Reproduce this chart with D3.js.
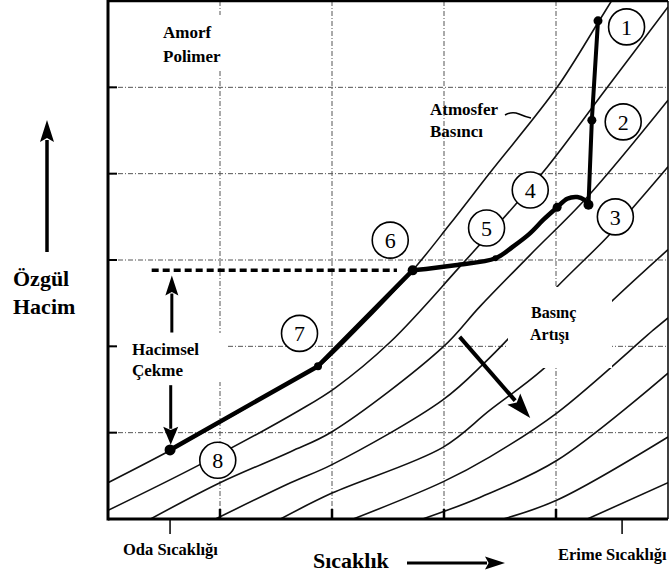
<!DOCTYPE html>
<html><head><meta charset="utf-8">
<script src="https://cdn.jsdelivr.net/npm/d3@7"></script>
<style>body{margin:0;background:#fff}svg{display:block}</style>
</head><body><svg id="c" width="669" height="581"></svg>
<script>
// ---------- data (grid units: temperature columns 0-5, specific volume rows 0-6) ----------
const xGrid = [1, 2, 3, 4];
const yGrid = [1, 2, 3, 4, 5];

// isobars, from atmospheric pressure (top-left) to highest pressure (bottom-right)
const isobarAtm = [[0,0.42],[0.55,0.79],[1.09,1.18],[1.63,1.59],[1.88,1.77],[2.22,2.19],[2.72,2.88],[3.05,3.41],[3.41,4.01],[4.01,5.00],[4.38,5.76],[4.50,6.01]];
const isobar2 = [[0,0.10],[0.82,0.63],[1.71,1.26],[2.03,1.52],[2.52,2.05],[3.14,2.92],[3.88,4.01],[4.44,4.97],[5.0,5.93]];
const isobar3 = [[0.38,0],[1.00,0.42],[1.63,0.78],[2.00,1.01],[2.99,1.99],[3.32,2.46],[3.77,3.06],[4.28,3.73],[5.0,4.85]];
const isobar4 = [[0.96,0],[1.63,0.42],[2.00,0.63],[2.99,1.38],[3.37,1.82],[3.62,2.15],[4.01,2.69],[4.46,3.27],[4.69,3.61],[5.0,4.08]];
const isobar5 = [[1.54,0],[2.00,0.30],[2.99,0.83],[3.41,1.26],[3.88,1.73],[4.48,2.50],[5.0,3.12]];
const isobar6 = [[2.19,0],[2.99,0.43],[3.41,0.72],[4.01,1.23],[4.87,2.19],[5.0,2.33]];
const isobar7 = [[2.81,0],[3.32,0.25],[4.01,0.68],[5.0,1.69]];
const isobar8 = [[3.53,0],[4.01,0.22],[5.0,0.95]];
const isobar9 = [[4.28,0],[5.0,0.42]];
const isobars = [isobarAtm, isobar2, isobar3, isobar4, isobar5, isobar6, isobar7, isobar8, isobar9];

// molding cycle path
const injection = [[4.375,5.77],[4.32,4.62],[4.29,3.64]];
const holding = [[4.29,3.64],[4.25,3.70],[4.19,3.73],[4.10,3.71],[4.01,3.61],[3.89,3.47],[3.76,3.30],[3.61,3.15],[3.46,3.02],[3.10,2.94],[2.72,2.88]];
const cooling = [[2.72,2.88],[1.875,1.77],[0.554,0.80]];

const stagePoints = [[4.375,5.77],[4.32,4.62],[4.29,3.64],[4.01,3.61],[3.46,3.02],[2.72,2.88],[1.875,1.77],[0.554,0.80]];
const stageRadius = [4.5,4.5,5,4.5,3,5,4,5.5];
const stageNumbers = ["1","2","3","4","5","6","7","8"];
const stageLabelPos = [[4.63,5.70],[4.60,4.60],[4.53,3.50],[3.77,3.81],[3.38,3.37],[2.52,3.23],[1.71,2.15],[0.98,0.68]];

const shrinkLevel = 2.88, shrinkFrom = 0.39, shrinkTo = 2.58;
const roomTemp = 0.554, meltTemp = 4.59;

// ---------- drawing ----------
const svg = d3.select("#c");
const x = d3.scaleLinear().domain([0,5]).range([108,668]);
const y = d3.scaleLinear().domain([0,6]).range([519,1]);
const serif = "'Liberation Serif','Times New Roman',serif";

svg.append("rect").attr("width",669).attr("height",581).attr("fill","#fff");
svg.append("defs").append("clipPath").attr("id","pc").append("rect")
  .attr("x",x(0)).attr("y",y(6)).attr("width",x(5)-x(0)).attr("height",y(0)-y(6));

// grid
const g = svg.append("g").attr("stroke","#555").attr("stroke-width",1).attr("stroke-dasharray","5,2,1,2");
g.selectAll(".vx").data(xGrid).join("line").attr("x1",d=>x(d)).attr("x2",d=>x(d)).attr("y1",y(6)).attr("y2",y(0));
g.selectAll(".hy").data(yGrid).join("line").attr("y1",d=>y(d)).attr("y2",d=>y(d)).attr("x1",x(0)).attr("x2",x(5));

// isobars
const line = d3.line().x(d=>x(d[0])).y(d=>y(d[1])).curve(d3.curveCatmullRom.alpha(0.5));
svg.append("g").attr("clip-path","url(#pc)").selectAll("path").data(isobars).join("path")
  .attr("d",line).attr("fill","none").attr("stroke","#111").attr("stroke-width",1.6);

// white label backgrounds
const boxes = [[150,15,85,55],[118,333,108,49],[508,287,104,81]];
svg.append("g").selectAll("rect").data(boxes).join("rect")
  .attr("x",d=>d[0]).attr("y",d=>d[1]).attr("width",d=>d[2]).attr("height",d=>d[3]).attr("fill","#fff");

// frame
svg.append("line").attr("x1",x(0)).attr("x2",x(0)).attr("y1",0).attr("y2",y(0)+1.5).attr("stroke","#000").attr("stroke-width",3);
svg.append("line").attr("x1",x(0)).attr("x2",x(5)).attr("y1",y(0)).attr("y2",y(0)).attr("stroke","#000").attr("stroke-width",3);
svg.append("line").attr("x1",x(0)).attr("x2",x(5)).attr("y1",y(6)).attr("y2",y(6)).attr("stroke","#000").attr("stroke-width",2.5);
svg.append("line").attr("x1",x(5)).attr("x2",x(5)).attr("y1",y(6)).attr("y2",y(0)).attr("stroke","#000").attr("stroke-width",1.5);
// ticks
svg.append("g").selectAll("line").data(xGrid).join("line").attr("x1",d=>x(d)).attr("x2",d=>x(d))
  .attr("y1",y(0)).attr("y2",y(0)-10).attr("stroke","#000").attr("stroke-width",2.5);
svg.append("g").selectAll("line").data(yGrid).join("line").attr("y1",d=>y(d)).attr("y2",d=>y(d))
  .attr("x1",x(0)).attr("x2",x(0)+9).attr("stroke","#000").attr("stroke-width",2);
svg.append("g").selectAll("line").data([roomTemp, meltTemp]).join("line").attr("x1",d=>x(d)).attr("x2",d=>x(d))
  .attr("y1",y(0)).attr("y2",y(0)+15).attr("stroke","#000").attr("stroke-width",1.5);

// shrinkage dashed level
svg.append("line").attr("x1",x(shrinkFrom)).attr("x2",x(shrinkTo)).attr("y1",y(shrinkLevel)).attr("y2",y(shrinkLevel))
  .attr("stroke","#000").attr("stroke-width",3.5).attr("stroke-dasharray","7,4");

// cycle path
const lin = d3.line().x(d=>x(d[0])).y(d=>y(d[1]));
const smooth = d3.line().x(d=>x(d[0])).y(d=>y(d[1])).curve(d3.curveCatmullRom.alpha(0.5));
svg.append("path").attr("d",lin(injection)).attr("fill","none").attr("stroke","#000").attr("stroke-width",4);
svg.append("path").attr("d",smooth(holding)).attr("fill","none").attr("stroke","#000").attr("stroke-width",4.5).attr("stroke-linejoin","round");
svg.append("path").attr("d",lin(cooling)).attr("fill","none").attr("stroke","#000").attr("stroke-width",4.5).attr("stroke-linejoin","round");
svg.append("g").selectAll("circle").data(stagePoints).join("circle")
  .attr("cx",d=>x(d[0])).attr("cy",d=>y(d[1])).attr("r",(d,i)=>stageRadius[i]).attr("fill","#000");

// arrows
function arrow(x1,y1,x2,y2,hl,hw,sw){
  const a = Math.atan2(y2-y1,x2-x1), c=Math.cos(a), s=Math.sin(a);
  const bx = x2-hl*c, by = y2-hl*s;
  svg.append("line").attr("x1",x1).attr("y1",y1).attr("x2",bx+c*2).attr("y2",by+s*2).attr("stroke","#000").attr("stroke-width",sw);
  svg.append("path").attr("d",`M${x2},${y2}L${bx-s*hw/2},${by+c*hw/2}L${bx+c*hl*0.18},${by+s*hl*0.18}L${bx+s*hw/2},${by-c*hw/2}Z`).attr("fill","#000");
}
arrow(x(0.57),y(2.16),x(0.57),y(2.82),20,13,3);
arrow(x(0.56),y(1.55),x(0.56),y(0.86),18,15,3);
arrow(x(3.14),y(2.11),x(3.77),y(1.17),25,17,4);
arrow(47,252,47,120,22,14,3.5);
arrow(407,563,505,563,20,13,3);

// stage number circles
const lab = svg.append("g").selectAll("g").data(stageLabelPos).join("g")
  .attr("transform",d=>`translate(${x(d[0])},${y(d[1])})`);
lab.append("circle").attr("r",18).attr("fill","#fff").attr("stroke","#000").attr("stroke-width",1.6);
lab.append("text").text((d,i)=>stageNumbers[i]).attr("text-anchor","middle").attr("dy","0.35em")
  .attr("font-family",serif).attr("font-size",22).attr("fill","#000");

// atmosphere leader
svg.append("path").attr("d","M505,115 Q512,111 519,114 T531,118").attr("fill","none").attr("stroke","#000").attr("stroke-width",1.5);

// texts
const texts = [
  ["Amorf",163,38,17],["Polimer",163,62,17],
  ["Atmosfer",430,115,17],["Basıncı",430,137,17],
  ["Hacimsel",132,355,17],["Çekme",132,376,17],
  ["Basınç",531,318,16],["Artışı",530,340,16],
  ["Özgül",13,286,22],["Hacim",13,314,22],
  ["Sıcaklık",313,568,22],
  ["Oda Sıcaklığı",123,555,16.5],["Erime Sıcaklığı",558,560,16.5]
];
svg.append("g").selectAll("text").data(texts).join("text")
  .attr("x",d=>d[1]).attr("y",d=>d[2]).attr("font-size",d=>d[3]).text(d=>d[0])
  .attr("font-family",serif).attr("font-weight","bold").attr("fill","#000");
</script></body></html>
